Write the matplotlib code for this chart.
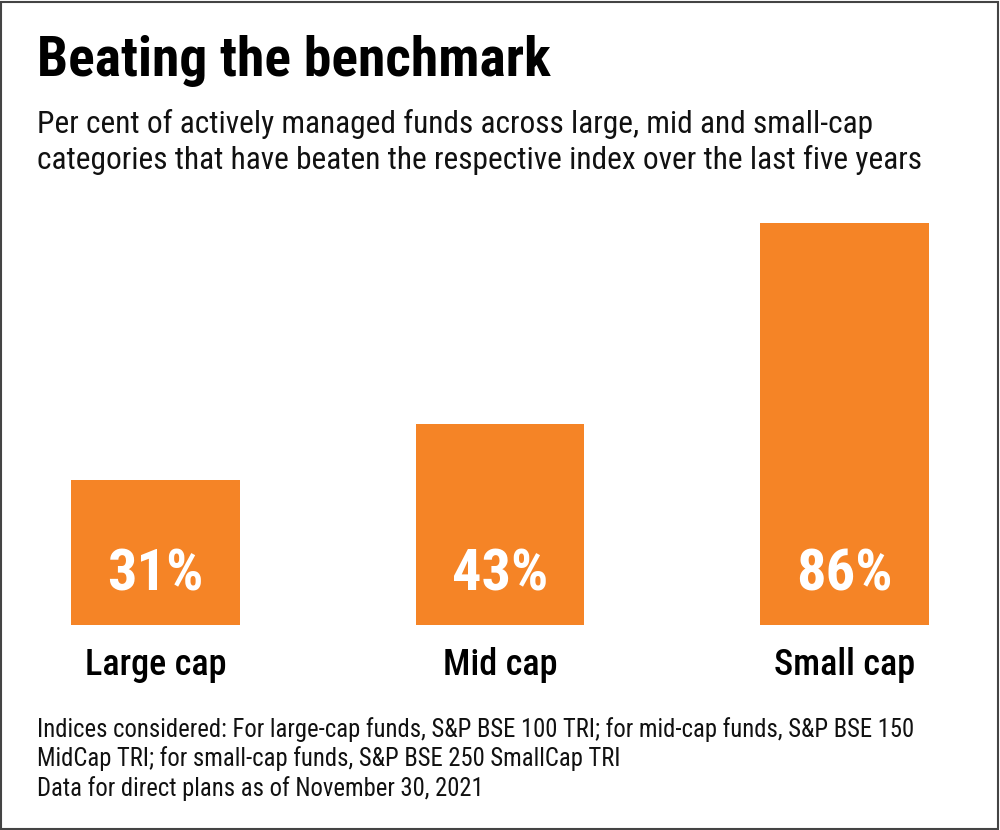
import matplotlib
matplotlib.use("Agg")
import matplotlib.pyplot as plt
from matplotlib.patches import Rectangle
from matplotlib import font_manager as fm

categories = ["Large cap", "Mid cap", "Small cap"]
values = [31, 43, 86]
value_labels = ["31%", "43%", "86%"]
title = "Beating the benchmark"
subtitle = ("Per cent of actively managed funds across large, mid and small-cap\n"
            "categories that have beaten the respective index over the last five years")
footnote = ("Indices considered: For large-cap funds, S&P BSE 100 TRI; for mid-cap funds, S&P BSE 150\n"
            "MidCap TRI; for small-cap funds, S&P BSE 250 SmallCap TRI\n"
            "Data for direct plans as of November 30, 2021")

available = {f.name for f in fm.fontManager.ttflist}
fam = None
for cand in ["Roboto Condensed", "Liberation Sans Narrow", "Arial Narrow", "Roboto"]:
    if cand in available:
        fam = cand
        break
plt.rcParams["font.family"] = [fam, "DejaVu Sans"]

ORANGE = "#F58426"
W, H = 1000, 830
fig = plt.figure(figsize=(W / 100, H / 100), dpi=100)
fig.patch.set_facecolor("white")

# bar axes: baseline at y=625px, px per percent
px_per = 4.68
ax = fig.add_axes([71 / W, (H - 625) / H, 858 / W, 100 * px_per / H])
x = list(range(len(categories)))
ax.bar(x, values, width=0.49, color=ORANGE)
ax.set_xlim(-0.245, 2.245)
ax.set_ylim(0, 100)
ax.axis("off")
for xi, lab in zip(x, value_labels):
    ax.text(xi, 10.6, lab, ha="center", va="center", color="white",
            fontsize=42, fontweight="bold")
for xi, cat in zip(x, categories):
    ax.text(xi, -8.6, cat, ha="center", va="center", color="black",
            fontsize=26, fontweight="medium")

def fy(py):
    return 1 - py / H

fig.text(37 / W, fy(61), title, ha="left", va="center", fontsize=40,
         fontweight="bold", color="black")
fig.text(37 / W, fy(142), subtitle, ha="left", va="center", fontsize=22.6,
         color="#111111", linespacing=1.22)
fig.text(37 / W, fy(759), footnote, ha="left", va="center", fontsize=17.7,
         color="#111111", linespacing=1.21)

fig.patches.append(Rectangle((1 / W, 1 / H), 997 / W, 827 / H, transform=fig.transFigure,
                             fill=False, edgecolor="#444444", linewidth=1.5))

fig.savefig("out.png", dpi=100, facecolor="white")
